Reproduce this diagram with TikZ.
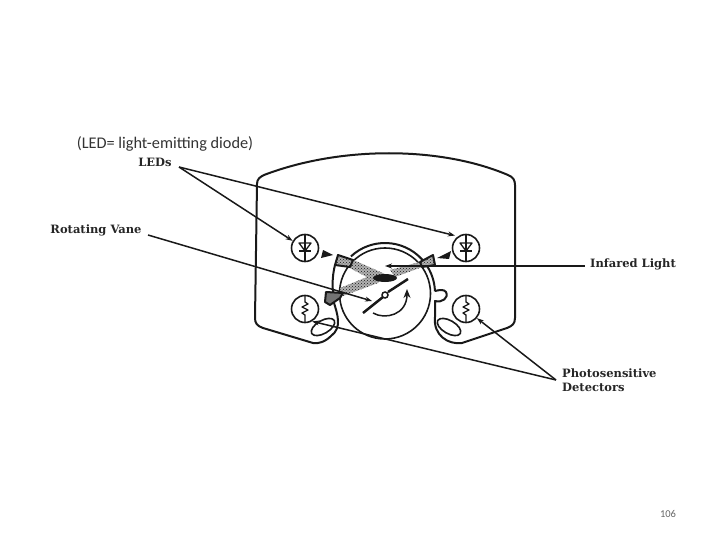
\documentclass[tikz,border=0pt]{standalone}
\usepackage{fontspec}
\setmainfont{Carlito}
\newfontfamily\labelfont{DejaVu Serif}
\usepackage{xcolor}
\usetikzlibrary{arrows.meta,patterns,calc,shapes.geometric}

\begin{document}
\begin{tikzpicture}[
    x=1pt, y=-1pt,
    partline/.style={draw=black!90, line width=2pt, line join=round},
    sensorcirc/.style={circle, draw=black!90, line width=1.6pt, minimum size=27pt, inner sep=0pt},
    sensorline/.style={draw=black!90, line width=1.3pt, line join=round},
    pointer/.style={draw=black!90, line width=1.5pt, -{Stealth[length=7pt,width=5pt]}},
    labeltext/.style={font=\labelfont\bfseries\fontsize{11.5}{14}\selectfont, text=black!85, inner sep=0pt},
    beamband/.style={fill=black!30, postaction={pattern=crosshatch dots, pattern color=black!90}},
    wedge/.style={fill=black!90, draw=none},
    blobshape/.style={ellipse, draw=black!90, line width=1.6pt, minimum width=26pt, minimum height=13pt, inner sep=0pt},
  ]
    \useasboundingbox (0,0) rectangle (720,540);
    \coordinate (ringc) at (385,293);
    % housing
    \draw[partline] (333,300) .. controls (338,315) and (342,328) .. (331,336) .. controls (325,342) and (318,344) .. (313,343)
      -- (263,328) .. controls (257,326) and (255,323) .. (255,318) -- (257,184) .. controls (257,179) and (260,177) .. (264,175)
      .. controls (340,146) and (440,146) .. (508,175) .. controls (513,177) and (515,180) .. (515,185) -- (515,318)
      .. controls (515,324) and (512,326) .. (507,328) -- (462,343) .. controls (448,345) and (433,335) .. (435,317) -- (435,301)
      .. controls (442,303) and (449,298) .. (446,292) .. controls (444,289) and (439,290) .. (435,291);
    % ring
    \draw[partline] ([shift={(227:50)}]ringc) arc[start angle=227, end angle=358, radius=50];
    \draw[partline] (335,265) .. controls (333,273) and (332,282) .. (333,292);
    \draw[draw=black!90, line width=1.6pt] (385,293.5) circle[radius=45.5];
    \node[blobshape, rotate=30] (blobleft) at (323,327) {};
    \node[blobshape, rotate=-30] (blobright) at (449,327) {};
    % beams
    \fill[beamband] (349,258) -- (346,266) -- (378,283) -- (385,274) -- cycle;
    \fill[beamband] (423,261) -- (425,266) -- (395,277) -- (390,270) -- cycle;
    \fill[beamband] (340,288) -- (343,296) -- (378,283) -- (372,275) -- cycle;
    \fill[black!90] (385,278) ellipse[x radius=12, y radius=4];
    % windows
    \draw[partline, beamband] (338,255) -- (353,260) -- (350,267) -- (335,265) -- cycle;
    \draw[partline, beamband] (420,262) -- (433,255) -- (435,265) -- (422,267) -- cycle;
    \draw[partline, fill=black!55] (326,292) -- (343,293) -- (340,298) -- (330,305) -- (325,302) -- cycle;
    \fill[wedge] (323,250) -- (333,255) -- (321,258) -- cycle;
    \fill[wedge] (451,251) -- (437,258) -- (449,259) -- cycle;
    % vane
    \draw[draw=black!90, line width=2.5pt] (363,313) -- (383,297);
    \draw[draw=black!90, line width=2.5pt] (388,292) -- (408,279);
    \node[circle, draw=black!90, fill=white, line width=1.5pt, minimum size=6pt, inner sep=0pt] (hub) at (385,295) {};
    \draw[draw=black!90, line width=1.5pt, -{Stealth[length=9pt,width=7pt]}] (373,313) .. controls (385,320) and (407,315) .. (407,289);
    % sensors
    \foreach \nm/\px in {ledleft/305, ledright/466} {
      \node[sensorcirc] (\nm) at (\px,248) {};
      \draw[sensorline] (\px,235) -- (\px,261);
      \draw[sensorline] (\px-6,243) -- (\px+6,243) -- (\px,251) -- cycle;
      \draw[sensorline] (\px-6,251) -- (\px+6,251);
    }
    \foreach \nm/\px in {detleft/305, detright/466} {
      \node[sensorcirc] (\nm) at (\px,309) {};
      \draw[sensorline] (\px,296) -- (\px,302) -- (\px+3,304) -- (\px-3,307) -- (\px+3,310) -- (\px-3,313) -- (\px,315) -- (\px,322);
    }
    % labels
    \node[font=\fontsize{16.3}{18}\selectfont, text=black!80] (ledfull) at (165,144) {(LED= light-emitting diode)};
    \node[labeltext] (ledlabel) at (155,162) {LEDs};
    \node[labeltext] (vanelabel) at (96,230) {Rotating Vane};
    \node[labeltext] (lightlabel) at (633,264) {Infared Light};
    \node[labeltext, align=left, anchor=north west] (detlabel) at (562,369) {Photosensitive\\Detectors};
    \node[font=\fontsize{10.5}{12}\selectfont, text=black!60] (pagenum) at (668,514) {106};
    % arrows
    \coordinate (ledstart) at (179,167);
    \coordinate (detstart) at (556,380);
    \coordinate (vanestart) at (148,235);
    \coordinate (lighttip) at (385,266);
    \coordinate (vanetip) at (372,301);
    \draw[pointer] (ledstart) -- (ledleft.150);
    \draw[pointer, shorten >=3pt] (ledstart) -- (ledright.125);
    \draw[pointer] (vanestart) -- (vanetip);
    \draw[pointer, shorten <=5pt] (lightlabel.west |- lighttip) -- (lighttip);
    \draw[pointer] (detstart) -- (detleft.-60);
    \draw[pointer] (detstart) -- (detright.-40);
  \end{tikzpicture}
\end{document}
